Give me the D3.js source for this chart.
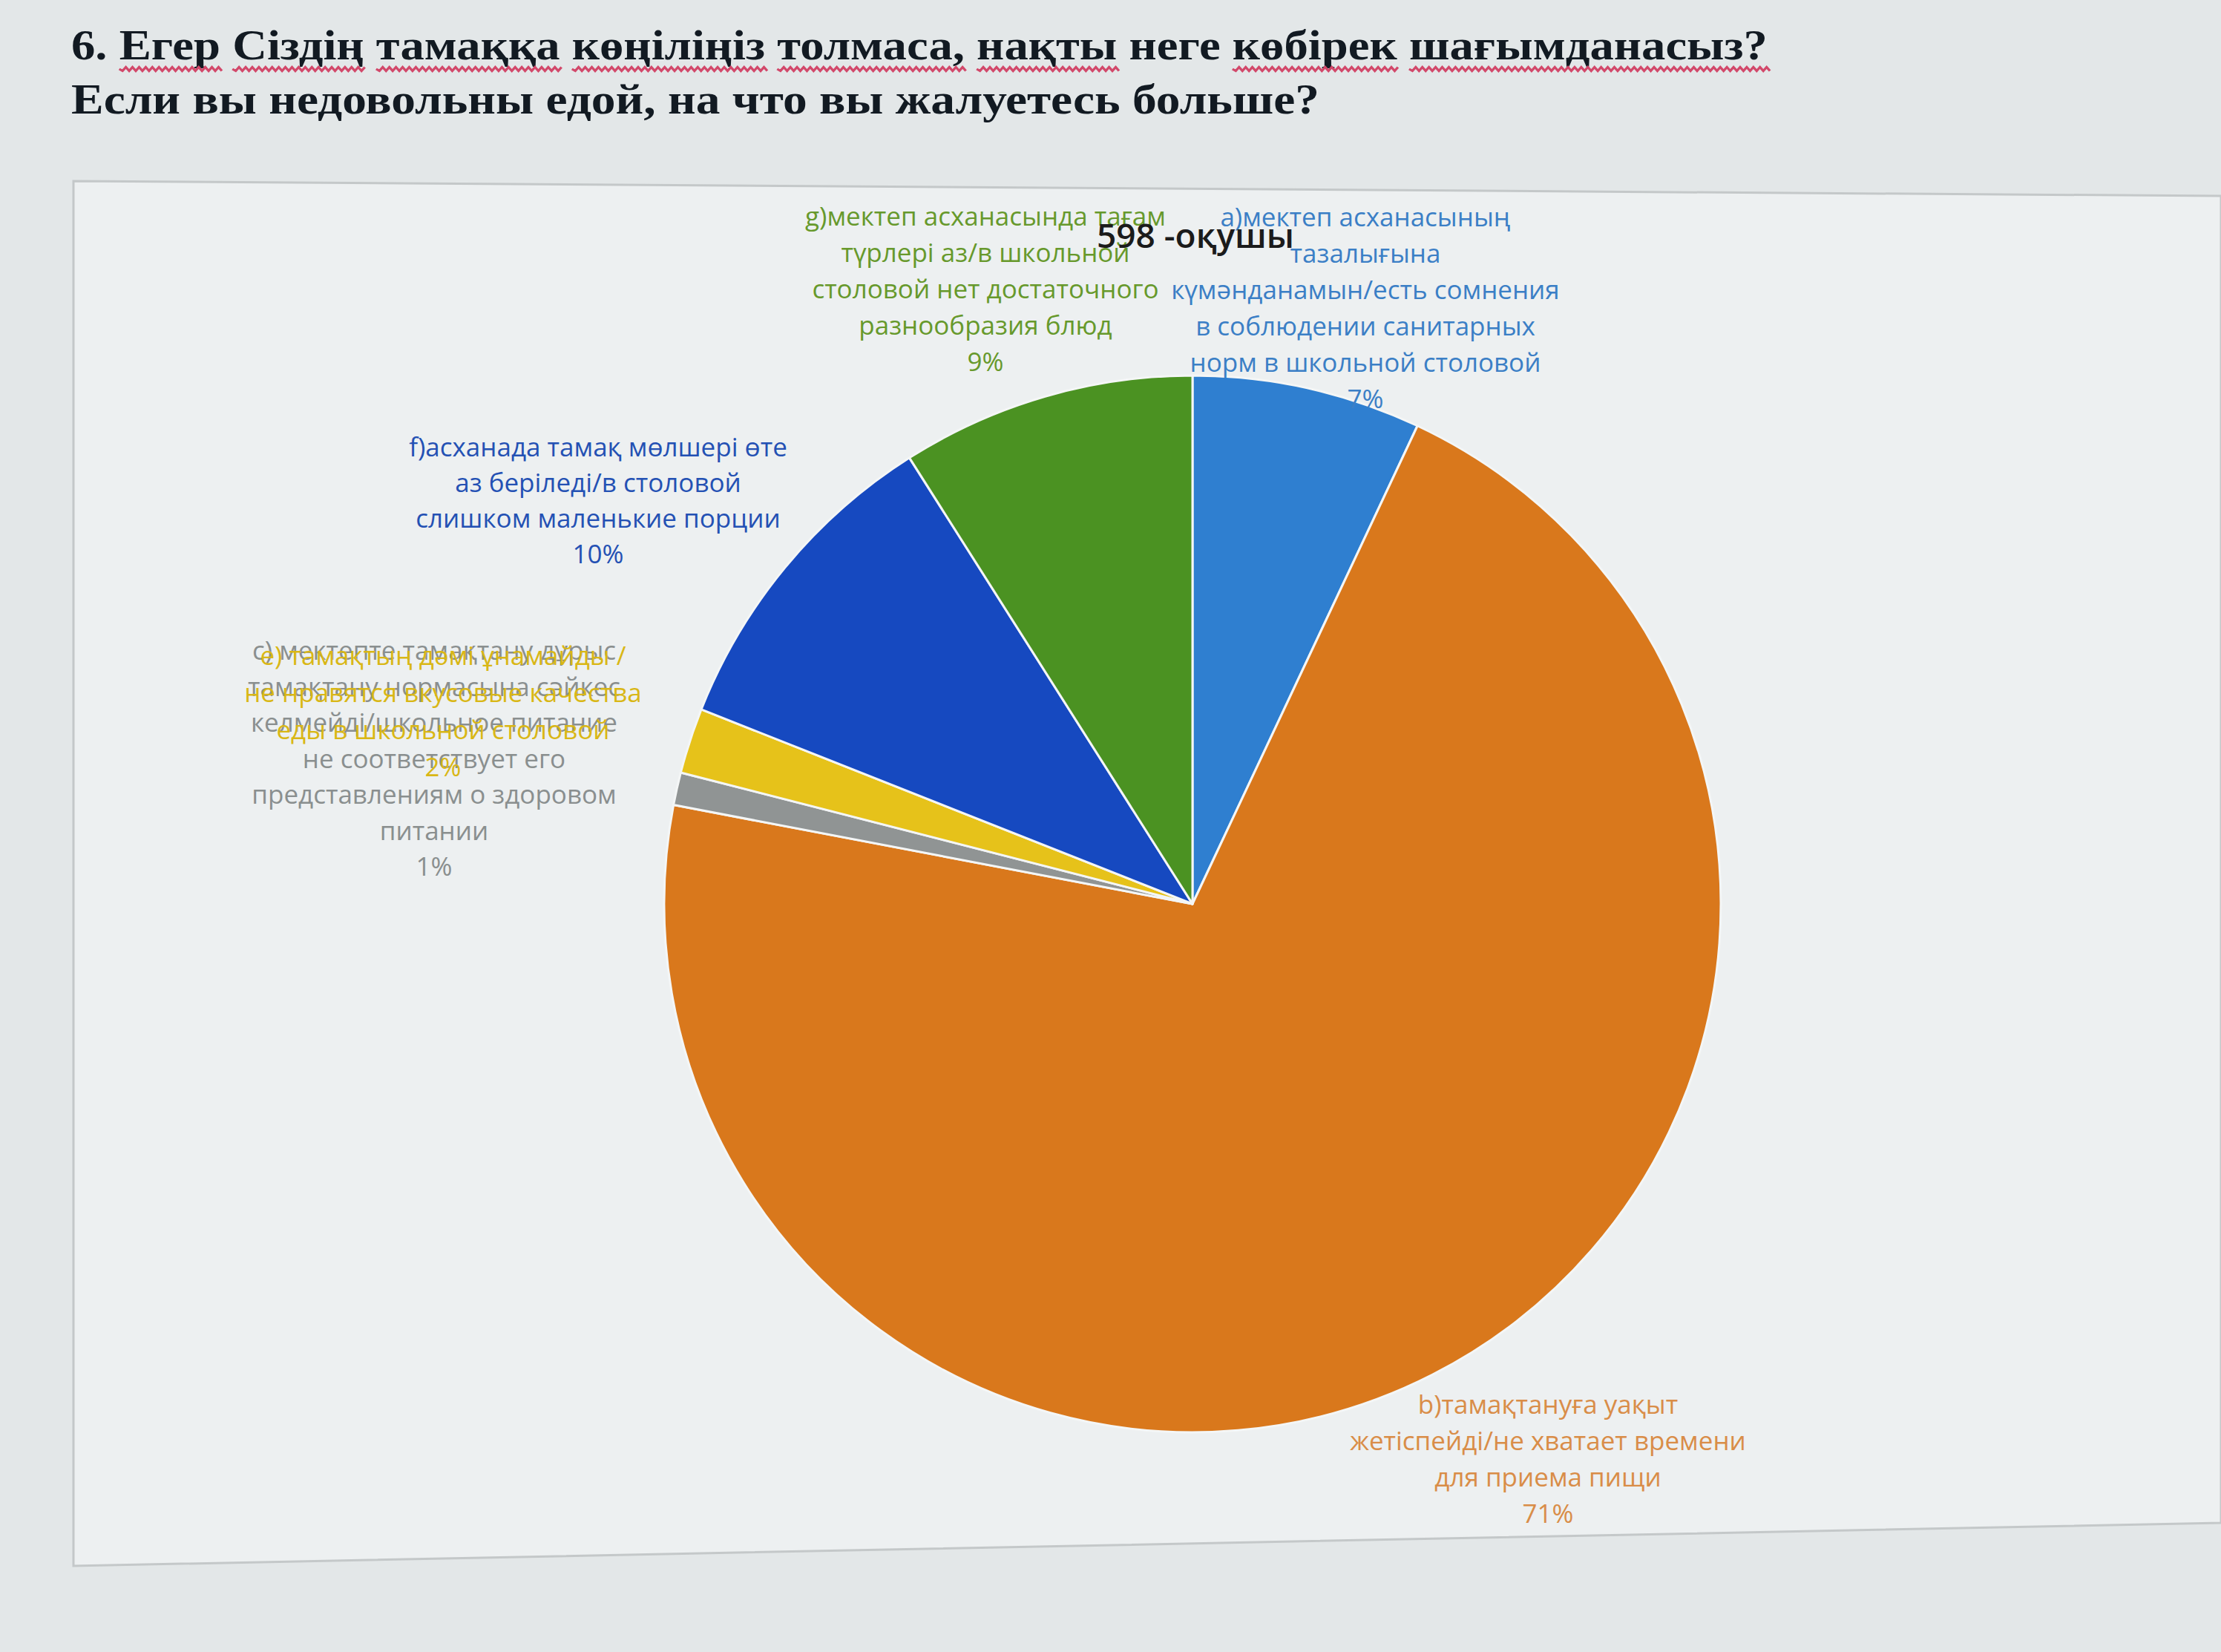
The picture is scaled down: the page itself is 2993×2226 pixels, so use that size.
<!DOCTYPE html>
<html>
<head>
<meta charset="utf-8">
<script src="https://cdn.jsdelivr.net/npm/d3@7"></script>
<style>
  html, body { margin: 0; padding: 0; background: #e3e7e8; }
  svg { display: block; }
</style>
</head>
<body>
<div id="chart"></div>
<script>
// question title (two lines), words flagged for the red spell-check underline
const titleLine1 = ["6.", "Егер", "Сіздің", "тамаққа", "көңіліңіз", "толмаса,", "нақты", "неге", "көбірек", "шағымданасыз?"];
const titleLine1Marked = [false, true, true, true, true, true, true, false, true, true];
const titleLine2 = ["Если", "вы", "недовольны", "едой,", "на", "что", "вы", "жалуетесь", "больше?"];

const chartTitle = "598 -оқушы";

// pie data, clockwise from 12 o'clock
const categories = ["a", "b", "c", "e", "f", "g"];
const shares = [7, 71, 1, 2, 10, 9];
const labelTexts = [
  ["а)мектеп асханасының", "тазалығына", "күмәнданамын/есть сомнения", "в соблюдении санитарных", "норм в школьной столовой"],
  ["b)тамақтануға уақыт", "жетіспейді/не хватает времени", "для приема пищи"],
  ["c) мектепте тамақтану дұрыс", "тамақтану нормасына сәйкес", "келмейді/школьное питание", "не соответствует его", "представлениям о здоровом", "питании"],
  ["e) тамақтың дәмі ұнамайды /", "не нравятся вкусовые качества", "еды в школьной столовой"],
  ["f)асханада тамақ мөлшері өте", "аз беріледі/в столовой", "слишком маленькие порции"],
  ["g)мектеп асханасында тағам", "түрлері аз/в школьной", "столовой нет достаточного", "разнообразия блюд"]
];

// styles / layout
const sliceColors = ["#2f7fd0", "#d9781c", "#909494", "#e6c21a", "#1649c0", "#4b9222"];
const labelColors = ["#3b7fc6", "#d98d48", "#8a8f8f", "#d9b716", "#2451b4", "#67992c"];
const labelAnchors = [[1840, 293], [2086, 1893], [585, 877], [597, 884], [806, 603], [1328, 292]];
const labelLineGap = [49, 49, 48.5, 50, 48, 49];

const W = 2993, H = 2226;
const svg = d3.select("#chart").append("svg")
  .attr("width", W)
  .attr("height", H);

// chart area frame (photo is slightly skewed)
svg.append("polygon")
  .attr("points", [[99, 244], [2993, 264], [2993, 2052], [99, 2110]].map(p => p.join(",")).join(" "))
  .attr("fill", "#edf0f1")
  .attr("stroke", "#c4c8c9")
  .attr("stroke-width", 3);

// title lines
const wavy = (x0, x1, y) => {
  let d = `M${x0},${y}`;
  for (let x = x0, k = 0; x < x1; x += 4, k++) d += `L${x + 4},${y + (k % 2 ? -2.5 : 2.5)}`;
  return d;
};

const drawTitleLine = (words, marked, baseline, targetLeft, targetWidth) => {
  const g = svg.append("g");
  const fontSize = 58;
  const space = fontSize * 0.25;
  let x = 0;
  const spans = [];
  words.forEach((w, i) => {
    const t = g.append("text")
      .attr("x", x)
      .attr("y", 0)
      .style("font-family", "'Liberation Serif', 'DejaVu Serif', serif")
      .style("font-weight", "bold")
      .style("font-size", fontSize + "px")
      .style("fill", "#121a22")
      .text(w);
    const len = t.node().getComputedTextLength();
    spans.push({ x, len, marked: marked ? marked[i] : false });
    x += len + space;
  });
  const total = x - space;
  spans.filter(s => s.marked).forEach(s => {
    g.append("path")
      .attr("d", wavy(s.x, s.x + s.len, 13))
      .attr("fill", "none")
      .attr("stroke", "#d2486a")
      .attr("stroke-width", 3);
  });
  g.attr("transform", `translate(${targetLeft},${baseline}) scale(${targetWidth / total},1)`);
};

drawTitleLine(titleLine1, titleLine1Marked, 80, 96, 2286);
drawTitleLine(titleLine2, null, 153, 96, 1682);

// pie
const cx = 1607, cy = 1218, radius = 712;
const pieData = categories.map((c, i) => ({ cat: c, value: shares[i], i }));
const pie = d3.pie().sort(null).value(d => d.value);
const arc = d3.arc().innerRadius(0).outerRadius(radius);

const pieG = svg.append("g").attr("transform", `translate(${cx},${cy})`);
pieG.selectAll("path.slice")
  .data(pie(pieData))
  .join("path")
  .attr("class", "slice")
  .attr("d", arc)
  .attr("fill", d => sliceColors[d.data.i])
  .attr("stroke", "#f4f6f6")
  .attr("stroke-width", 3)
  .attr("stroke-linejoin", "round");

// data labels
const fmtPct = v => `${Math.round(v)}%`;
pieData.forEach(d => {
  const [lx, ly] = labelAnchors[d.i];
  const lines = labelTexts[d.i].concat([fmtPct(d.value)]);
  const t = svg.append("text")
    .attr("text-anchor", "middle")
    .style("font-family", "'Open Sans', 'Noto Sans', sans-serif")
    .style("font-size", "35px")
    .style("fill", labelColors[d.i]);
  lines.forEach((ln, k) => {
    t.append("tspan")
      .attr("x", lx)
      .attr("y", ly + k * labelLineGap[d.i])
      .attr("dy", "0.35em")
      .text(ln);
  });
});

// chart title
svg.append("text")
  .attr("x", 1611)
  .attr("y", 318)
  .attr("dy", "0.35em")
  .attr("text-anchor", "middle")
  .style("font-family", "'Open Sans', 'Noto Sans', sans-serif")
  .style("font-size", "46px")
  .style("font-weight", "600")
  .style("fill", "#1b1b1b")
  .text(chartTitle);
</script>
</body>
</html>
